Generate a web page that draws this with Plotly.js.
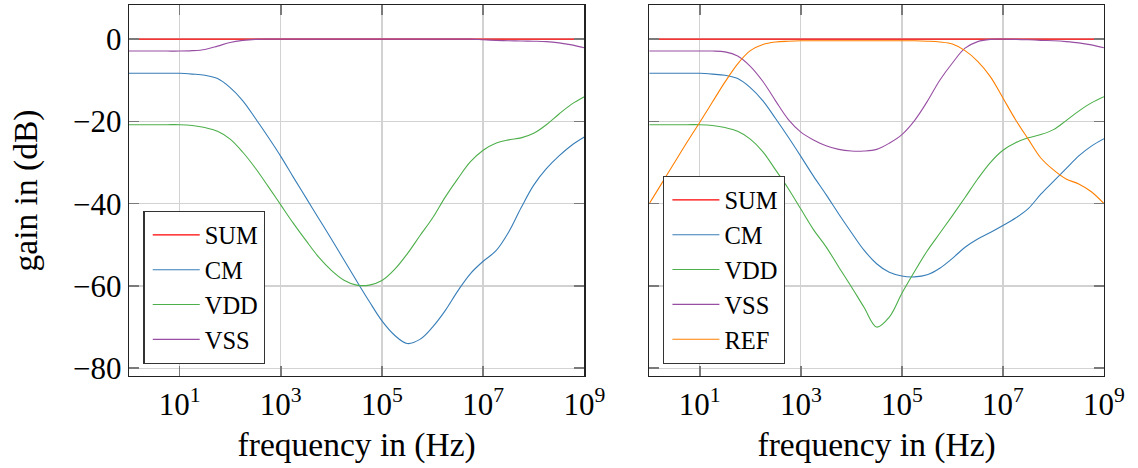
<!DOCTYPE html>
<html>
<head>
<meta charset="utf-8">
<script src="https://cdn.plot.ly/plotly-3.0.1.min.js"></script>
<style>html,body{margin:0;padding:0;background:#fff;} #chart{width:1138px;height:468px;}</style>
</head>
<body>
<div id="chart"></div>
<script>
// frequency samples (Hz), quarter-decade steps
const freq = [1, 1.778, 3.162, 5.623, 10, 17.78, 31.62, 56.23, 100, 177.8, 316.2, 562.3,
  1e3, 1778, 3162, 5623, 1e4, 17783, 31623, 56234, 1e5, 177828, 316228, 562341,
  1e6, 1778279, 3162278, 5623413, 1e7, 17782794, 31622777, 56234133,
  1e8, 177827941, 316227766, 562341325, 1e9];

// left panel
const leftSUM = [0,0,0,0,0,0,0,0,0,0,0,0,0,0,0,0,0,0,0,0,0,0,0,0,0,0,0,0,0,0,0,0,0,0,0,0,0];
const leftCM = [-8.3,-8.3,-8.3,-8.3,-8.3,-8.5,-8.8,-9.6,-11.8,-15.0,-19.3,-23.8,-28.5,-33.6,-38.6,-43.6,-48.6,-53.7,-58.8,-63.8,-68.5,-72.0,-74.0,-73.0,-70.0,-66.0,-61.2,-57.0,-54.0,-51.5,-47.0,-41.0,-35.5,-31.5,-28.4,-25.8,-23.8];
const leftVDD = [-20.8,-20.8,-20.8,-20.8,-20.8,-21.0,-21.5,-22.4,-24.3,-27.5,-31.4,-35.8,-40.3,-44.8,-49.0,-53.0,-56.2,-58.6,-59.8,-59.8,-58.7,-56.0,-52.2,-47.8,-43.5,-38.4,-33.9,-29.8,-27.0,-25.3,-24.5,-24.0,-22.9,-20.8,-18.2,-15.8,-14.0];
const leftVSS = [-2.9,-2.9,-2.9,-2.9,-2.9,-2.8,-2.5,-1.7,-0.8,-0.3,-0.05,0,0,0,0,0,0,0,0,0,0,0,0,0,0,0,0,0,-0.15,-0.3,-0.4,-0.45,-0.5,-0.6,-0.9,-1.4,-2.1];

// right panel
const rightSUM = [0,0,0,0,0,0,0,0,0,0,0,0,0,0,0,0,0,0,0,0,0,0,0,0,0,0,0,0,0,0,0,0,0,0,0,0,0];
const rightCM = [-8.3,-8.3,-8.3,-8.3,-8.3,-8.5,-8.8,-9.6,-11.8,-15.0,-19.3,-23.8,-28.5,-33.3,-37.8,-42.5,-47.0,-51.3,-54.6,-56.7,-57.6,-57.8,-57.3,-55.7,-53.3,-50.6,-48.6,-47.0,-45.3,-43.5,-41.2,-37.7,-34.6,-31.5,-28.4,-26.0,-24.2];
const rightVDD = [-20.8,-20.8,-20.8,-20.8,-20.8,-21.0,-21.5,-22.4,-24.3,-27.4,-31.8,-36.3,-41.3,-46.3,-50.5,-55.4,-60.2,-65.2,-70.0,-67.6,-61.8,-56.5,-51.5,-47.2,-42.9,-38.5,-34.0,-30.0,-27.0,-25.2,-24.0,-23.2,-22.0,-19.8,-17.5,-15.5,-14.0];
const rightVSS = [-2.9,-2.9,-2.9,-2.9,-2.9,-2.9,-3.1,-4.1,-6.6,-10.3,-15.0,-19.5,-22.6,-24.5,-25.9,-26.8,-27.2,-27.2,-26.8,-25.3,-23.2,-19.8,-15.2,-10.0,-5.8,-2.2,-0.6,-0.05,0,-0.05,-0.15,-0.3,-0.4,-0.6,-0.9,-1.4,-2.1];
const rightREF = [-40,-35,-30,-25,-20.2,-15.3,-10.4,-6.0,-2.8,-1.3,-0.7,-0.5,-0.4,-0.4,-0.4,-0.4,-0.4,-0.4,-0.4,-0.4,-0.4,-0.4,-0.5,-0.7,-1.2,-2.8,-5.4,-9.1,-14.3,-19.6,-24.3,-28.9,-31.8,-34.0,-35.2,-37.1,-40];

const xTickVals = [10, 1e3, 1e5, 1e7, 1e9];
const xTickText = ['10<sup>1</sup>', '10<sup>3</sup>', '10<sup>5</sup>', '10<sup>7</sup>', '10<sup>9</sup>'];
const yTickVals = [-80, -60, -40, -20, 0];
const yTickText = ['\u221280', '\u221260', '\u221240', '\u221220', '0'];

const colors = {SUM: '#ff0000', CM: '#377eb8', VDD: '#4daf4a', VSS: '#984ea3', REF: '#ff7f00'};
const FONT = 'Liberation Serif';

function tr(name, y, xa, ya, leg) {
  return {x: freq, y: y, name: name, type: 'scatter', mode: 'lines',
    line: {color: colors[name], width: 1.1, shape: 'spline', smoothing: 1},
    xaxis: xa, yaxis: ya, legend: leg, hoverinfo: 'skip'};
}

const data = [
  tr('SUM', leftSUM, 'x', 'y', 'legend'),
  tr('CM', leftCM, 'x', 'y', 'legend'),
  tr('VDD', leftVDD, 'x', 'y', 'legend'),
  tr('VSS', leftVSS, 'x', 'y', 'legend'),
  tr('SUM', rightSUM, 'x2', 'y2', 'legend2'),
  tr('CM', rightCM, 'x2', 'y2', 'legend2'),
  tr('VDD', rightVDD, 'x2', 'y2', 'legend2'),
  tr('VSS', rightVSS, 'x2', 'y2', 'legend2'),
  tr('REF', rightREF, 'x2', 'y2', 'legend2')
];

const xCommon = {
  type: 'log', range: [0, 9], tickmode: 'array', tickvals: xTickVals, ticktext: xTickText,
  ticks: 'inside', ticklen: 10, tickwidth: 1.5, tickcolor: '#7a7a7a',
  showgrid: true, gridcolor: '#d2d2d2', gridwidth: 1.3, zeroline: false,
  showline: true, linecolor: '#222', linewidth: 1.4, mirror: 'ticks',
  tickfont: {family: FONT, size: 31, color: '#000'},
  title: {text: 'frequency in (Hz)', font: {family: FONT, size: 33.5, color: '#000'}, standoff: 12}
};
const yCommon = {
  range: [-81.9, 8.3], tickmode: 'array', tickvals: yTickVals, ticktext: yTickText,
  ticks: 'inside', ticklen: 10, tickwidth: 1.5, tickcolor: '#7a7a7a',
  showgrid: true, gridcolor: '#d2d2d2', gridwidth: 1.3, zeroline: false,
  showline: true, linecolor: '#222', linewidth: 1.4, mirror: 'ticks',
  tickfont: {family: FONT, size: 31, color: '#000'}
};
const legCommon = {
  xanchor: 'left', yanchor: 'bottom', bgcolor: '#fff', bordercolor: '#333', borderwidth: 1.4,
  font: {family: FONT, size: 24.5, color: '#000'}, itemwidth: 47, indentation: 3, tracegroupgap: 0
};

const layout = {
  width: 1138, height: 468,
  margin: {l: 129, r: 34, t: 5, b: 92},
  paper_bgcolor: '#fff', plot_bgcolor: '#fff',
  showlegend: true,
  font: {family: FONT, color: '#000'},
  xaxis: Object.assign({}, xCommon, {domain: [0, 0.467], anchor: 'y'}),
  xaxis2: Object.assign({}, xCommon, {domain: [0.5336, 1], anchor: 'y2'}),
  yaxis: Object.assign({}, yCommon, {anchor: 'x',
    title: {text: 'gain in (dB)', font: {family: FONT, size: 33.5, color: '#000'}, standoff: 25}}),
  yaxis2: Object.assign({}, yCommon, {anchor: 'x2', showticklabels: false}),
  legend: Object.assign({}, legCommon, {x: 0.0147, y: 0.0323}),
  legend2: Object.assign({}, legCommon, {x: 0.5477, y: 0.0323})
};

Plotly.newPlot('chart', data, layout, {staticPlot: true, displayModeBar: false});
</script>
</body>
</html>
